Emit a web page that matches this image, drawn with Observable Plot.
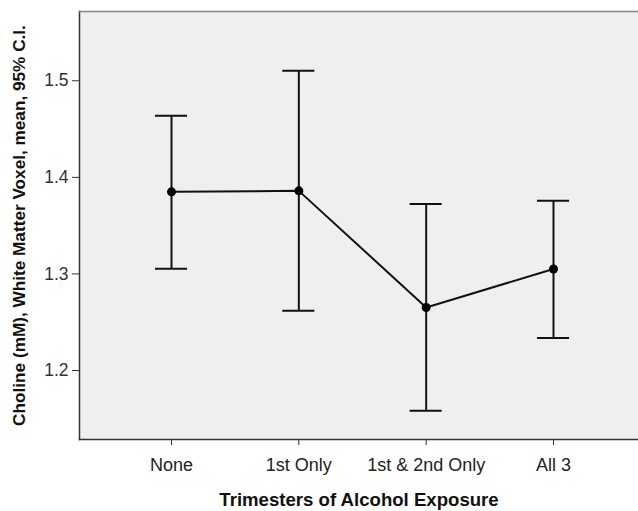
<!DOCTYPE html>
<html>
<head>
<meta charset="utf-8">
<script src="https://cdn.jsdelivr.net/npm/d3@7"></script>
<script src="https://cdn.jsdelivr.net/npm/@observablehq/plot@0.6"></script>
<style>
  html, body { margin: 0; padding: 0; background: #fff; }
  svg { font-family: "Liberation Sans", Arial, sans-serif; }
  svg g[aria-label="y-axis label"], svg g[aria-label="y-axis label"] text { font-weight: bold !important; font-size: 17.2px !important; fill: #111; }
  svg g[aria-label="x-axis label"], svg g[aria-label="x-axis label"] text { font-weight: bold !important; font-size: 18.6px !important; fill: #111; }
  svg g[aria-label="y-axis tick label"], svg g[aria-label="y-axis tick label"] text { font-size: 17.5px !important; fill: #333; }
  svg g[aria-label="x-axis tick label"], svg g[aria-label="x-axis tick label"] text { font-size: 18px !important; fill: #222; }
</style>
</head>
<body>
<div id="chart"></div>
<script>
const categories = ["None", "1st Only", "1st & 2nd Only", "All 3"];
const means = [1.385, 1.386, 1.2653, 1.3051];
const lower = [1.3054, 1.2619, 1.1584, 1.2336];
const upper = [1.4638, 1.5104, 1.3724, 1.3758];
const yTicks = [1.2, 1.3, 1.4, 1.5];
const capHalf = 0.126;

const data = categories.map((c, i) => ({i, c, mean: means[i], lo: lower[i], hi: upper[i]}));

const chart = Plot.plot({
  width: 638,
  height: 511,
  marginLeft: 79,
  marginRight: 0,
  marginTop: 11,
  marginBottom: 72,
  style: {background: "#fff", color: "#222", fontFamily: "Liberation Sans, Arial, sans-serif"},
  x: {domain: [-0.7225, 3.6675]},
  y: {domain: [1.1286, 1.5717]},
  marks: [
    Plot.frame({fill: "#efefef", stroke: null}),
    Plot.frame({anchor: "left", stroke: "#333", strokeWidth: 1.5}),
    Plot.frame({anchor: "bottom", stroke: "#333", strokeWidth: 1.5}),
    Plot.frame({anchor: "top", stroke: "#888", strokeWidth: 1.5}),
    Plot.axisY({ticks: yTicks, tickFormat: d3.format(".1f"), tickSize: 7, tickPadding: 4,
      label: "Choline (mM), White Matter Voxel, mean, 95% C.I.", labelArrow: "none", labelAnchor: "center", labelOffset: 67, stroke: "#333"}),
    Plot.axisX({ticks: d3.range(categories.length), tickFormat: i => categories[i], tickSize: 6, tickPadding: 13,
      label: "Trimesters of Alcohol Exposure", labelArrow: "none", labelAnchor: "center", labelOffset: 66, stroke: "#333"}),
    Plot.ruleX(data, {x: "i", y1: "lo", y2: "hi", stroke: "#111", strokeWidth: 2}),
    Plot.ruleY(data, {y: "hi", x1: d => d.i - capHalf, x2: d => d.i + capHalf, stroke: "#111", strokeWidth: 2}),
    Plot.ruleY(data, {y: "lo", x1: d => d.i - capHalf, x2: d => d.i + capHalf, stroke: "#111", strokeWidth: 2}),
    Plot.line(data, {x: "i", y: "mean", stroke: "#111", strokeWidth: 2}),
    Plot.dot(data, {x: "i", y: "mean", r: 4.5, fill: "#000", stroke: null})
  ]
});
document.getElementById("chart").append(chart);
</script>
</body>
</html>
